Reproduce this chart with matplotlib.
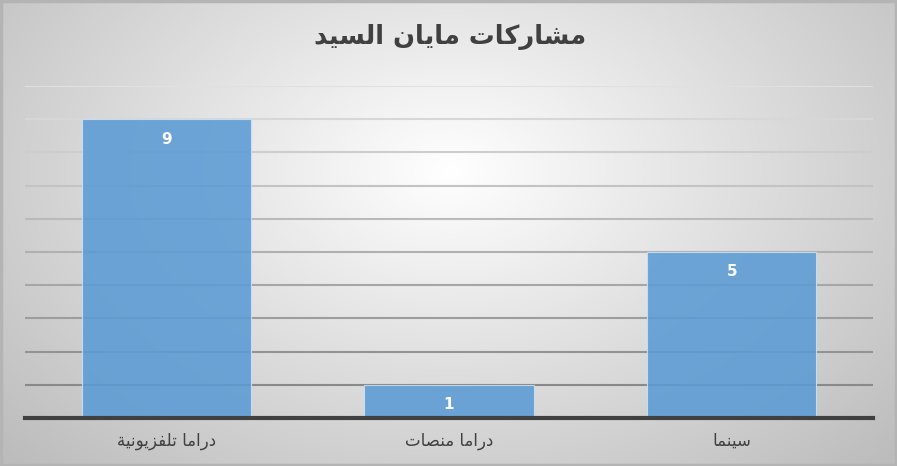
import numpy as np
import matplotlib.pyplot as plt
from matplotlib.patches import Rectangle

title = "مشاركات مايان السيد"
categories = ["دراما تلفزيونية", "دراما منصات", "سينما"]
values = [9, 1, 5]

# isolated, final, initial, medial presentation forms
FORMS = {
    "ا": (0xFE8D, 0xFE8E, None, None),
    "ة": (0xFE93, 0xFE94, None, None),
    "ت": (0xFE95, 0xFE96, 0xFE97, 0xFE98),
    "د": (0xFEA9, 0xFEAA, None, None),
    "ر": (0xFEAD, 0xFEAE, None, None),
    "ز": (0xFEAF, 0xFEB0, None, None),
    "س": (0xFEB1, 0xFEB2, 0xFEB3, 0xFEB4),
    "ش": (0xFEB5, 0xFEB6, 0xFEB7, 0xFEB8),
    "ص": (0xFEB9, 0xFEBA, 0xFEBB, 0xFEBC),
    "ف": (0xFED1, 0xFED2, 0xFED3, 0xFED4),
    "ك": (0xFED9, 0xFEDA, 0xFEDB, 0xFEDC),
    "ل": (0xFEDD, 0xFEDE, 0xFEDF, 0xFEE0),
    "م": (0xFEE1, 0xFEE2, 0xFEE3, 0xFEE4),
    "ن": (0xFEE5, 0xFEE6, 0xFEE7, 0xFEE8),
    "و": (0xFEED, 0xFEEE, None, None),
    "ي": (0xFEF1, 0xFEF2, 0xFEF3, 0xFEF4),
}


def shape(s):
    out = []
    for i, c in enumerate(s):
        if c not in FORMS:
            out.append(c)
            continue
        prev = s[i - 1] if i > 0 else " "
        nxt = s[i + 1] if i < len(s) - 1 else " "
        jp = prev in FORMS and FORMS[prev][2] is not None
        jn = nxt in FORMS and FORMS[c][2] is not None
        f = FORMS[c]
        if jp and jn:
            cp = f[3]
        elif jp:
            cp = f[1]
        elif jn:
            cp = f[2]
        else:
            cp = f[0]
        out.append(chr(cp))
    return "".join(out)[::-1]


W, H = 897, 466
fig = plt.figure(figsize=(W / 100, H / 100), dpi=100)

# radial gradient background
bg = fig.add_axes([0, 0, 1, 1], zorder=-10)
yy, xx = np.mgrid[0:H, 0:W]
r = np.sqrt(((xx - 450) / 560.0) ** 2 + ((yy - 170) / 380.0) ** 2)
g = np.clip(1.0 - 0.24 * r, 0.74, 1.0)
bg.imshow(np.dstack([g, g, g]), extent=[0, W, H, 0], aspect="auto")
bg.add_patch(Rectangle((1, 1), W - 2, H - 2, fill=False, edgecolor="#b4b4b4", linewidth=2.5))
bg.set_xlim(0, W)
bg.set_ylim(H, 0)
bg.axis("off")

ax = fig.add_axes([25 / W, 48 / H, 848 / W, 332 / H])
ax.patch.set_alpha(0)
x = np.arange(len(categories))
bars = ax.bar(x, values, width=0.6, color="#5b9bd5", alpha=0.88,
              edgecolor="#cfe0f2", linewidth=0.8, zorder=2)
ax.set_xlim(-0.5, len(categories) - 0.5)
ax.set_ylim(0, 10)
ax.set_yticks(range(0, 11))
ax.set_yticklabels([])
ax.tick_params(axis="both", length=0)
ax.grid(axis="y", linewidth=1.5, zorder=1)
ax.set_axisbelow(True)
for i, gl in enumerate(ax.get_ygridlines()):
    shade = 0.5 + 0.38 * i / 10
    gl.set_color((shade, shade, shade))
for s in ["left", "right", "top"]:
    ax.spines[s].set_visible(False)
ax.spines["bottom"].set_color("#404040")
ax.spines["bottom"].set_linewidth(3)
ax.spines["bottom"].set_zorder(3)

ax.set_xticks(x)
ax.set_xticklabels([shape(c) for c in categories], fontsize=12, color="#404040")
ax.tick_params(axis="x", pad=10)

for b, v in zip(bars, values):
    ax.text(b.get_x() + b.get_width() / 2, v - 0.6, str(v), ha="center", va="center",
            color="white", fontsize=11, fontweight="bold", zorder=4)

fig.text(450 / W, 1 - 37 / H, shape(title), ha="center", va="center",
         fontsize=18.5, fontweight="bold", color="#404040")

fig.savefig("out.png", dpi=100)
